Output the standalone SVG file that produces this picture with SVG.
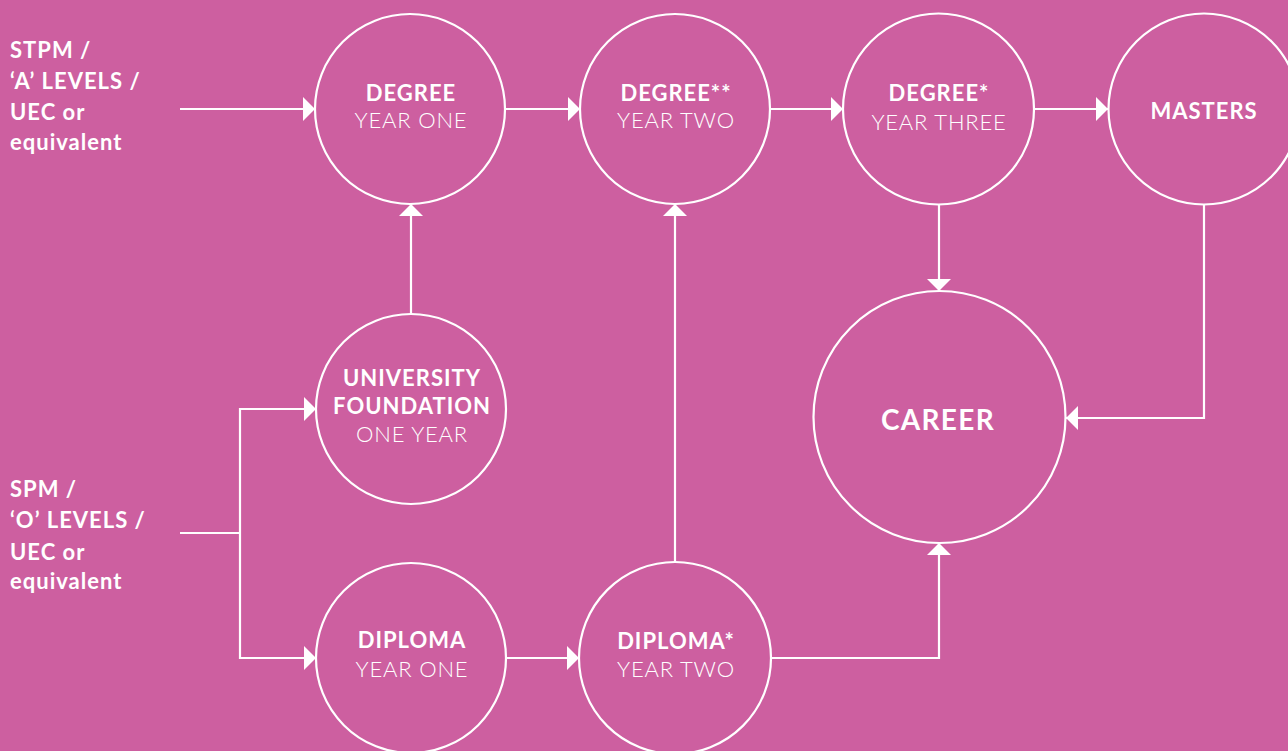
<svg xmlns="http://www.w3.org/2000/svg" width="1288" height="751" viewBox="0 0 1288 751">
<style>
.node{fill:none;stroke:#fff;stroke-width:2.2}
.b{font-family:Lato,"Noto Sans","Liberation Sans",sans-serif;font-weight:700;fill:#fff;font-size:22px;letter-spacing:1px}
.l{font-family:Lato,"Noto Sans","Liberation Sans",sans-serif;font-weight:300;fill:#fff;font-size:22px;letter-spacing:0.8px}
.c{text-anchor:middle}
.src{font-family:Lato,"Noto Sans","Liberation Sans",sans-serif;font-weight:700;fill:#fff;font-size:22px;letter-spacing:1px}
.conn path{fill:none;stroke:#fff;stroke-width:2.2}
</style>
<defs>
<marker id="ah" viewBox="0 0 12 24" refX="12" refY="12" markerWidth="12" markerHeight="24" markerUnits="userSpaceOnUse" orient="auto">
<path d="M0,0 L12,12 L0,24 z" fill="#fff"/>
</marker>
</defs>
<rect width="1288" height="751" fill="#CD5FA0"/>

<g id="src-stpm">
<text class="src" x="10" y="58">STPM /</text>
<text class="src" x="10" y="89">‘A’ LEVELS /</text>
<text class="src" x="10" y="120">UEC or</text>
<text class="src" x="10" y="150">equivalent</text>
</g>
<g id="src-spm">
<text class="src" x="10" y="497">SPM /</text>
<text class="src" x="10" y="528">‘O’ LEVELS /</text>
<text class="src" x="10" y="560">UEC or</text>
<text class="src" x="10" y="589">equivalent</text>
</g>

<g class="conn" id="connectors">
<path d="M180,109 H315" marker-end="url(#ah)"/>
<path d="M505,109 H580" marker-end="url(#ah)"/>
<path d="M770,109 H843" marker-end="url(#ah)"/>
<path d="M1034,109 H1108" marker-end="url(#ah)"/>
<path d="M411,314 V204" marker-end="url(#ah)"/>
<path d="M180,533 H240"/>
<path d="M240,533 V409 H316" marker-end="url(#ah)"/>
<path d="M240,533 V658 H316" marker-end="url(#ah)"/>
<path d="M506,658 H579" marker-end="url(#ah)"/>
<path d="M675,562 V204" marker-end="url(#ah)"/>
<path d="M771,658 H939 V543" marker-end="url(#ah)"/>
<path d="M939,205 V291" marker-end="url(#ah)"/>
<path d="M1204,205 V418 H1066" marker-end="url(#ah)"/>
</g>

<g id="degree1">
<circle class="node" cx="410" cy="109" r="95"/>
<text class="b c" x="411" y="101">DEGREE</text>
<text class="l c" x="411" y="128">YEAR ONE</text>
</g>
<g id="degree2">
<circle class="node" cx="675" cy="109" r="95"/>
<text class="b c" x="676" y="101">DEGREE**</text>
<text class="l c" x="676" y="128">YEAR TWO</text>
</g>
<g id="degree3">
<circle class="node" cx="938.5" cy="109" r="95.5"/>
<text class="b c" x="939" y="101">DEGREE*</text>
<text class="l c" x="939" y="130">YEAR THREE</text>
</g>
<g id="masters">
<circle class="node" cx="1204" cy="109" r="95.5"/>
<text class="b c" x="1204" y="119">MASTERS</text>
</g>
<g id="foundation">
<circle class="node" cx="411" cy="409" r="95"/>
<text class="b c" x="412" y="386">UNIVERSITY</text>
<text class="b c" x="412" y="414">FOUNDATION</text>
<text class="l c" x="412" y="442">ONE YEAR</text>
</g>
<g id="diploma1">
<circle class="node" cx="411" cy="658" r="95"/>
<text class="b c" x="412" y="648">DIPLOMA</text>
<text class="l c" x="412" y="677">YEAR ONE</text>
</g>
<g id="diploma2">
<circle class="node" cx="675" cy="658" r="96"/>
<text class="b c" x="676" y="649">DIPLOMA*</text>
<text class="l c" x="676" y="677">YEAR TWO</text>
</g>
<g id="career">
<circle class="node" cx="939.5" cy="417" r="126"/>
<text class="b c" x="938" y="430" style="font-size:28px;letter-spacing:1.3px">CAREER</text>
</g>
</svg>
